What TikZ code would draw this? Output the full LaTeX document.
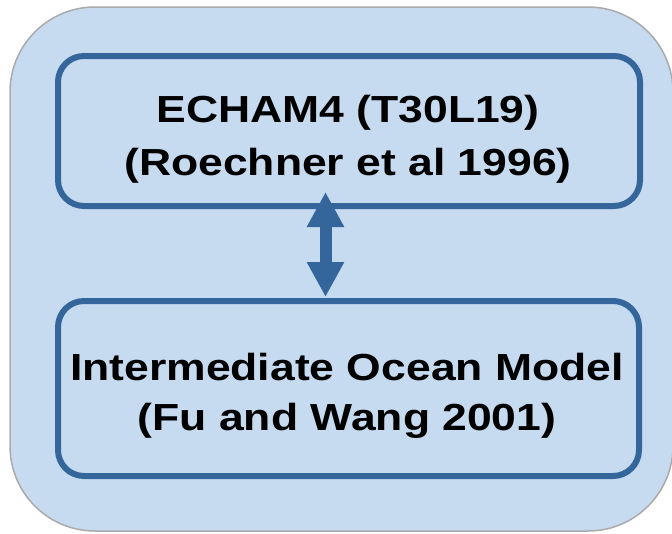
\documentclass[tikz,border=0pt]{standalone}
\usepackage{fontspec}
\newfontfamily\lblfont{Liberation Sans}[FakeStretch=1.18]
\usetikzlibrary{arrows.meta}
\definecolor{panelfill}{RGB}{198,218,240}
\definecolor{panelline}{RGB}{170,170,170}
\definecolor{boxblue}{RGB}{52,101,155}
\tikzset{
  panel/.style={draw=panelline, line width=1.5pt, fill=panelfill, rounded corners=85pt},
  modelbox/.style={draw=boxblue, line width=6pt, rounded corners=26pt, inner sep=0pt, outer sep=0pt},
  lbl/.style={font=\lblfont\bfseries\fontsize{37.7}{53}\selectfont, align=center, inner sep=0pt, text=black},
  dblarrow/.style={draw=boxblue, line width=12pt, {Triangle[length=35pt,width=35pt]}-{Triangle[length=35pt,width=35pt]}}
}
\begin{document}
\begin{tikzpicture}[x=1pt,y=-1pt]
\useasboundingbox (0,0) rectangle (672,533);
\draw[panel] (10,7) rectangle (673,531);
\node[modelbox, minimum width=582pt, minimum height=150pt] (top) at (349,131) {};
\node[modelbox, minimum width=581pt, minimum height=175pt] (bot) at (348.5,388.5) {};
\node[lbl, anchor=base] (toptxt) at (348,175) {ECHAM4 (T30L19)\\(Roechner et al 1996)};
\node[lbl, anchor=base] (bottxt) at (347,430) {Intermediate Ocean Model\\[-3pt](Fu and Wang 2001)};
\draw[dblarrow, shorten <=-14pt, shorten >=4pt] ([xshift=-23.5pt]top.south) -- ([xshift=-23pt]bot.north);
\end{tikzpicture}
\end{document}
